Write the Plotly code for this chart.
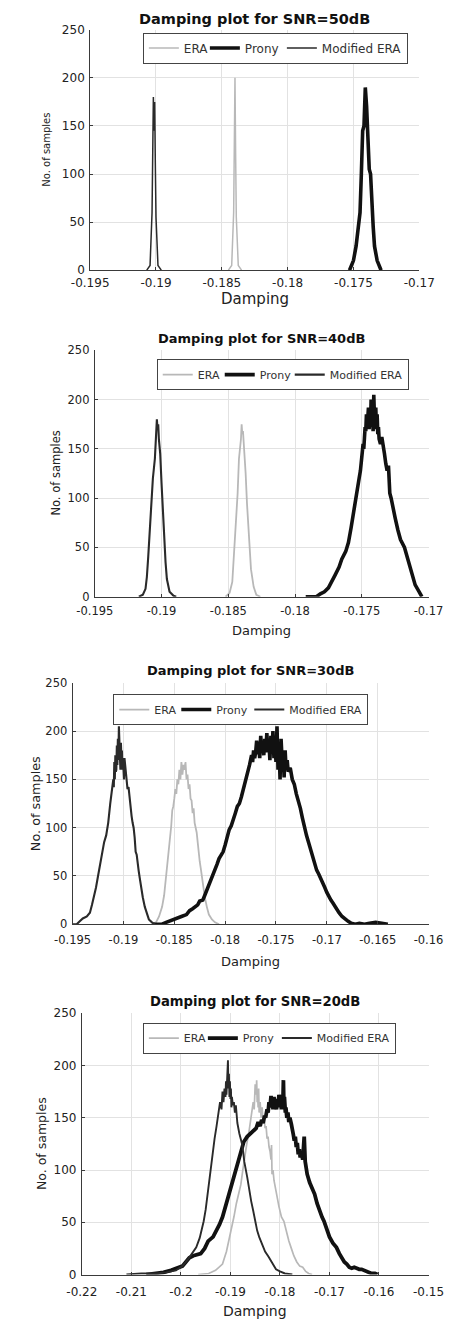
import plotly.graph_objects as go

# ---------------- data ----------------
titles = ["Damping plot for SNR=50dB", "Damping plot for SNR=40dB",
          "Damping plot for SNR=30dB", "Damping plot for SNR=20dB"]
series_names = ["ERA", "Prony", "Modified ERA"]
y_ticks = [0, 50, 100, 150, 200, 250]
y_tick_labels = ["0", "50", "100", "150", "200", "250"]

x_ticks_1 = [-0.195, -0.19, -0.185, -0.18, -0.175, -0.17]
x_labels_1 = ["-0.195", "-0.19", "-0.185", "-0.18", "-0.175", "-0.17"]
x_ticks_2 = [-0.195, -0.19, -0.185, -0.18, -0.175, -0.17]
x_labels_2 = ["-0.195", "-0.19", "-0.185", "-0.18", "-0.175", "-0.17"]
x_ticks_3 = [-0.195, -0.19, -0.185, -0.18, -0.175, -0.17, -0.165, -0.16]
x_labels_3 = ["-0.195", "-0.19", "-0.185", "-0.18", "-0.175", "-0.17", "-0.165", "-0.16"]
x_ticks_4 = [-0.22, -0.21, -0.2, -0.19, -0.18, -0.17, -0.16, -0.15]
x_labels_4 = ["-0.22", "-0.21", "-0.2", "-0.19", "-0.18", "-0.17", "-0.16", "-0.15"]

# SNR = 50 dB
era50_x = [-0.1845, -0.18425, -0.1841, -0.18405, -0.1840, -0.18395, -0.1839, -0.18375, -0.1835]
era50_y = [0, 5, 60, 130, 200, 120, 55, 5, 0]
prony50_x = [-0.1753, -0.1750, -0.1748, -0.1746, -0.1745, -0.1744, -0.1743, -0.1742, -0.1741,
             -0.1740, -0.1739, -0.1738, -0.1737, -0.1736, -0.1735, -0.1734, -0.1732, -0.1729]
prony50_y = [0, 10, 25, 50, 60, 100, 145, 150, 190, 170, 140, 105, 100, 65, 45, 25, 10, 0]
mera50_x = [-0.1907, -0.19045, -0.1903, -0.19025, -0.1902, -0.19015, -0.1901, -0.19005,
            -0.1900, -0.18985, -0.1896]
mera50_y = [0, 5, 60, 150, 180, 145, 175, 110, 55, 5, 0]

# SNR = 40 dB
era40_x = [-0.1852, -0.1849, -0.1847, -0.1846, -0.18455, -0.1844, -0.1843, -0.1842, -0.18405,
           -0.1840, -0.18395, -0.1839, -0.1838, -0.1837, -0.1836, -0.1835, -0.1834, -0.1833,
           -0.1831, -0.1829, -0.1826]
era40_y = [0, 4, 15, 35, 50, 80, 105, 140, 160, 175, 165, 168, 150, 125, 95, 70, 50, 28, 10, 2, 0]
prony40_x = [-0.1792, -0.1784, -0.1781, -0.1778, -0.1775, -0.1772, -0.1770, -0.1767, -0.1765,
             -0.1762, -0.1760, -0.1758, -0.1756, -0.1755, -0.1754, -0.1753, -0.1752, -0.1751,
             -0.1750, -0.17495, -0.1749, -0.17485, -0.1748, -0.17475, -0.1747, -0.17465, -0.1746,
             -0.17455, -0.1745, -0.17445, -0.1744, -0.17435, -0.1743, -0.17425, -0.1742,
             -0.17415, -0.1741, -0.17405, -0.1740, -0.17395, -0.1739, -0.17385, -0.1738,
             -0.17375, -0.1737, -0.1736, -0.1735, -0.1734, -0.1733, -0.1732, -0.1731, -0.1730,
             -0.1729, -0.1728, -0.1727, -0.1725, -0.1723, -0.1721, -0.1718, -0.1716, -0.1714,
             -0.1712, -0.1710, -0.1707, -0.1705]
prony40_y = [0, 0, 3, 5, 9, 16, 22, 30, 38, 46, 55, 70, 85, 95, 100, 110, 120, 128, 140, 148,
             155, 150, 165, 172, 168, 185, 170, 178, 192, 170, 185, 172, 200, 178, 195, 168, 205,
             182, 175, 192, 170, 185, 165, 172, 160, 155, 162, 150, 145, 135, 128, 133, 105, 100,
             92, 80, 68, 58, 50, 40, 30, 22, 12, 5, 0]
mera40_x = [-0.1917, -0.1914, -0.1912, -0.1911, -0.1910, -0.1909, -0.1908, -0.19065, -0.1905,
            -0.1904, -0.19035, -0.1903, -0.19025, -0.1902, -0.1901, -0.1900, -0.1899, -0.1898,
            -0.1897, -0.1896, -0.1894, -0.1891, -0.1889]
mera40_y = [0, 2, 8, 20, 40, 62, 85, 120, 140, 165, 180, 170, 175, 160, 145, 115, 85, 55, 35,
            18, 5, 1, 0]

# SNR = 30 dB
era30_x = [-0.1872, -0.1868, -0.1865, -0.1862, -0.1860, -0.1858, -0.1857, -0.1856, -0.1855,
           -0.1854, -0.1853, -0.1852, -0.1851, -0.1850, -0.1849, -0.1848, -0.1847, -0.1846,
           -0.1845, -0.1844, -0.1843, -0.1842, -0.1841, -0.1840, -0.1839, -0.1838, -0.1837,
           -0.1836, -0.1835, -0.1834, -0.1833, -0.1832, -0.1831, -0.1830, -0.1829, -0.1828,
           -0.1827, -0.1826, -0.1825, -0.1824, -0.1823, -0.1822, -0.1821, -0.1820, -0.1818,
           -0.1816, -0.1813, -0.1810, -0.1806]
era30_y = [0, 2, 8, 18, 30, 50, 60, 72, 85, 95, 102, 118, 122, 130, 140, 135, 150, 145, 160,
           150, 168, 155, 165, 160, 168, 150, 155, 140, 145, 130, 128, 115, 120, 105, 100, 95,
           85, 72, 65, 58, 50, 42, 35, 28, 18, 10, 5, 2, 0]
prony30_x = [-0.1870, -0.1862, -0.1858, -0.1855, -0.1851, -0.1847, -0.1843, -0.1838, -0.1835,
             -0.1832, -0.1829, -0.1827, -0.1825, -0.1822, -0.1820, -0.1818, -0.1816, -0.1814,
             -0.1812, -0.1810, -0.1808, -0.1806, -0.1804, -0.1802, -0.1800, -0.1798, -0.1796,
             -0.1794, -0.1792, -0.1790, -0.1788, -0.1786, -0.1784, -0.1782, -0.1780, -0.1778,
             -0.1776, -0.1774, -0.1773, -0.1772, -0.1771, -0.1770, -0.1769, -0.1768, -0.1767,
             -0.1766, -0.1765, -0.1764, -0.1763, -0.1762, -0.1761, -0.1760, -0.1759, -0.1758,
             -0.1757, -0.1756, -0.1755, -0.1754, -0.1753, -0.1752, -0.1751, -0.1750, -0.1749,
             -0.1748, -0.1747, -0.1746, -0.1745, -0.1744, -0.1743, -0.1742, -0.1741, -0.1740,
             -0.1739, -0.1738, -0.1736, -0.1734, -0.1732, -0.1730, -0.1728, -0.1726, -0.1724,
             -0.1722, -0.1720, -0.1718, -0.1716, -0.1714, -0.1712, -0.1710, -0.1708, -0.1706,
             -0.1704, -0.1702, -0.1700, -0.1698, -0.1696, -0.1694, -0.1692, -0.1690, -0.1688,
             -0.1685, -0.1682, -0.1679, -0.1676, -0.1672, -0.1668, -0.1663, -0.1658, -0.1652,
             -0.1646, -0.1640, -0.1636]
prony30_y = [0, 0, 2, 3, 5, 6, 8, 10, 14, 16, 18, 20, 24, 25, 30, 35, 40, 45, 50, 55, 62, 68,
             72, 75, 82, 90, 98, 102, 110, 115, 122, 125, 132, 140, 150, 155, 165, 175, 168, 180,
             172, 178, 190, 176, 185, 172, 195, 180, 188, 175, 192, 178, 198, 180, 190, 170, 195,
             178, 200, 172, 190, 168, 205, 160, 185, 150, 192, 170, 178, 152, 180, 160, 170, 158,
             162, 150, 145, 135, 128, 120, 110, 100, 92, 85, 78, 70, 62, 56, 52, 48, 42, 38, 33,
             28, 25, 22, 18, 15, 12, 8, 5, 3, 1, 0, 1, 0, 1, 2, 1, 0]
mera30_x = [-0.1950, -0.1946, -0.1943, -0.1940, -0.1936, -0.1933, -0.1931, -0.1929, -0.1927,
            -0.1925, -0.1923, -0.1921, -0.1919, -0.1917, -0.1915, -0.1913, -0.1911, -0.1910,
            -0.19095, -0.1909, -0.19085, -0.1908, -0.19075, -0.1907, -0.19065, -0.1906,
            -0.19055, -0.1905, -0.19045, -0.1904, -0.19035, -0.1903, -0.19025, -0.1902,
            -0.19015, -0.1901, -0.19005, -0.1900, -0.18995, -0.1899, -0.1898, -0.1897, -0.1896,
            -0.1895, -0.1894, -0.1893, -0.1892, -0.1891, -0.1890, -0.1889, -0.1888, -0.1887,
            -0.1886, -0.1885, -0.1884, -0.1883, -0.1881, -0.1879, -0.1877, -0.1875, -0.1872,
            -0.1869]
mera30_y = [0, 0, 3, 6, 8, 12, 20, 28, 38, 50, 62, 72, 85, 92, 105, 125, 140, 150, 142, 168,
            150, 175, 158, 160, 185, 165, 192, 170, 205, 178, 190, 160, 188, 172, 180, 160, 172,
            165, 150, 172, 160, 152, 140, 142, 130, 122, 112, 105, 100, 90, 75, 72, 60, 55, 48,
            40, 28, 18, 10, 5, 2, 0]

# SNR = 20 dB
era20_x = [-0.1965, -0.1944, -0.1930, -0.1916, -0.1908, -0.1903, -0.1898, -0.1893, -0.1888,
           -0.1883, -0.1879, -0.1875, -0.1871, -0.1867, -0.1863, -0.1860, -0.1857, -0.1854,
           -0.1852, -0.1850, -0.1848, -0.1847, -0.1846, -0.1845, -0.1844, -0.1843, -0.1842,
           -0.1840, -0.1838, -0.1836, -0.1834, -0.1832, -0.1830, -0.1828, -0.1826, -0.1824,
           -0.1822, -0.1820, -0.1818, -0.1817, -0.1816, -0.1814, -0.1812, -0.1810, -0.1806,
           -0.1802, -0.1797, -0.1792, -0.1787, -0.1782, -0.1777, -0.1772, -0.1766, -0.1760,
           -0.1754, -0.1748, -0.1742, -0.1735]
era20_y = [0, 1, 4, 10, 22, 32, 42, 55, 68, 80, 86, 100, 115, 125, 135, 143, 155, 165, 158,
           182, 172, 186, 165, 170, 160, 178, 155, 165, 150, 160, 145, 150, 140, 142, 130, 132,
           122, 118, 110, 124, 96, 100, 90, 86, 75, 65, 55, 51, 40, 32, 25, 18, 12, 8, 7, 3, 1, 0]
prony20_x = [-0.2070, -0.2050, -0.2035, -0.2020, -0.2008, -0.1997, -0.1990, -0.1983, -0.1975,
             -0.1967, -0.1960, -0.1952, -0.1945, -0.1935, -0.1928, -0.1922, -0.1916, -0.1910,
             -0.1904, -0.1898, -0.1891, -0.1885, -0.1880, -0.1873, -0.1866, -0.1860, -0.1854,
             -0.1848, -0.1844, -0.1840, -0.1837, -0.1834, -0.1831, -0.1829, -0.1826, -0.1824,
             -0.1822, -0.1820, -0.1818, -0.1817, -0.1815, -0.1814, -0.1812, -0.1811, -0.1809,
             -0.1807, -0.1805, -0.1804, -0.1802, -0.1800, -0.1798, -0.1797, -0.1795, -0.1794,
             -0.1793, -0.1792, -0.1791, -0.1789, -0.1788, -0.1786, -0.1784, -0.1782, -0.1780,
             -0.1777, -0.1775, -0.1773, -0.1771, -0.1769, -0.1767, -0.1765, -0.1763, -0.1761,
             -0.1759, -0.1757, -0.1754, -0.1752, -0.1751, -0.1749, -0.1745, -0.1740, -0.1735,
             -0.1730, -0.1725, -0.1720, -0.1715, -0.1711, -0.1705, -0.1700, -0.1693, -0.1686,
             -0.1680, -0.1675, -0.1670, -0.1665, -0.1660, -0.1655, -0.1650, -0.1645, -0.1640,
             -0.1635, -0.1630, -0.1625, -0.1620, -0.1615, -0.1608, -0.1603]
prony20_y = [0, 1, 2, 4, 6, 8, 12, 16, 18, 19, 20, 25, 32, 36, 42, 48, 55, 65, 72, 83, 95, 105,
             115, 127, 132, 135, 138, 140, 146, 142, 148, 145, 152, 150, 158, 155, 165, 160, 171,
             162, 168, 158, 170, 160, 166, 158, 168, 160, 172, 162, 168, 158, 172, 165, 186, 160,
             170, 155, 160, 150, 155, 146, 150, 144, 140, 134, 128, 132, 122, 126, 115, 120, 112,
             118, 110, 120, 132, 108, 96, 88, 82, 77, 68, 60, 55, 51, 42, 36, 30, 26, 20, 15, 12,
             10, 7, 6, 7, 6, 5, 5, 4, 3, 2, 1, 1, 0]
mera20_x = [-0.2110, -0.2080, -0.2050, -0.2030, -0.2010, -0.1997, -0.1985, -0.1975, -0.1969,
            -0.1962, -0.1958, -0.1954, -0.1950, -0.1946, -0.1941, -0.1937, -0.1932, -0.1928,
            -0.1924, -0.1921, -0.1918, -0.1916, -0.1914, -0.1912, -0.1910, -0.1909, -0.1908,
            -0.1907, -0.1906, -0.1905, -0.1904, -0.1903, -0.1902, -0.1901, -0.1900, -0.1899,
            -0.1898, -0.1897, -0.1895, -0.1893, -0.1891, -0.1889, -0.1886, -0.1882, -0.1876,
            -0.1872, -0.1866, -0.1862, -0.1858, -0.1854, -0.1850, -0.1846, -0.1842, -0.1836,
            -0.1830, -0.1823, -0.1815, -0.1808, -0.1800, -0.1790, -0.1775]
mera20_y = [0, 1, 1, 2, 4, 8, 15, 22, 26, 35, 42, 51, 62, 78, 93, 112, 130, 142, 155, 165, 158,
            175, 165, 178, 170, 185, 172, 190, 200, 205, 178, 192, 170, 185, 168, 178, 160, 170,
            162, 165, 155, 162, 145, 135, 124, 108, 93, 80, 70, 61, 50, 42, 36, 28, 22, 17, 10,
            5, 3, 1, 0]

panels = [
    (era50_x, era50_y, prony50_x, prony50_y, mera50_x, mera50_y, [-0.195, -0.17], x_ticks_1, x_labels_1),
    (era40_x, era40_y, prony40_x, prony40_y, mera40_x, mera40_y, [-0.195, -0.17], x_ticks_2, x_labels_2),
    (era30_x, era30_y, prony30_x, prony30_y, mera30_x, mera30_y, [-0.195, -0.16], x_ticks_3, x_labels_3),
    (era20_x, era20_y, prony20_x, prony20_y, mera20_x, mera20_y, [-0.22, -0.15], x_ticks_4, x_labels_4),
]

# ---------------- layout geometry (pixels) ----------------
W, H = 463, 1330
# left, right, top, bottom of plot areas
boxes = [(77, 433, 23, 266), (82, 443, 347, 596), (58, 443, 683, 927), (68, 443, 1017, 1281)]
legend_left = [134, 149, 102, 134]
legend_mid = [41.5, 371.5, 710, 1042]
legend_size = [12, 11, 11, 11]
legend_entry_w = [[16, 32, None], [17, 25, None], [17, 28, None], [14, 29, None]]
title_y = [12, 335, 671, 1005]
xlabel_y = [295, 630, 965, 1318]
ylabel_x = [30, 39, 18, 25]
title_size = [14.5, 13, 13, 13.2]
lab_size = [15, 13, 13, 14]
ylab_size = [10, 11.5, 12.8, 12.5]
tick_size = [12, 11.5, 11.5, 12]
xtick_standoff = [1, 3, 5, 6]

FONT = "DejaVu Sans"
colors = ["#b8b8b8", "#111111", "#2a2a2a"]
widths_by_panel = [[1.5, 3.6, 1.5], [1.8, 3.6, 2.1], [1.8, 3.6, 2.1], [1.7, 3.8, 1.9]]

fig = go.Figure()
layout = dict(width=W, height=H, margin=dict(l=0, r=0, t=0, b=0),
              paper_bgcolor="white", plot_bgcolor="white",
              font=dict(family=FONT, color="#222"), annotations=[])

for i, p in enumerate(panels):
    ex, ey, px, py, mx, my, xr, xt, xl = p
    n = "" if i == 0 else str(i + 1)
    leg = "legend" if i == 0 else "legend" + str(i + 1)
    for k, ((sx, sy), name, c, w) in enumerate(zip([(ex, ey), (px, py), (mx, my)], series_names,
                                                  colors, widths_by_panel[i])):
        tr = dict(x=sx, y=sy, mode="lines", name=name, line=dict(color=c, width=w),
                  xaxis="x" + n, yaxis="y" + n, legend=leg)
        if legend_entry_w[i][k] is not None:
            tr["legendwidth"] = legend_entry_w[i][k]
        fig.add_trace(go.Scatter(**tr))
    l, r, t, b = boxes[i]
    layout["xaxis" + n] = dict(domain=[l / W, r / W], anchor="y" + n, range=xr,
                               tickvals=xt, ticktext=xl, showgrid=True, gridcolor="#e2e2e2",
                               showline=True, linecolor="#3a3a3a", linewidth=1,
                               ticks="inside", ticklen=3, tickcolor="#3a3a3a",
                               ticklabelstandoff=xtick_standoff[i],
                               zeroline=False, tickfont=dict(size=tick_size[i], color="#222"))
    layout["yaxis" + n] = dict(domain=[1 - b / H, 1 - t / H], anchor="x" + n, range=[0, 250],
                               tickvals=y_ticks, ticktext=y_tick_labels, showgrid=True,
                               gridcolor="#e2e2e2", showline=True, linecolor="#3a3a3a",
                               linewidth=1, ticks="inside", ticklen=3, tickcolor="#3a3a3a",
                               ticklabelstandoff=2,
                               zeroline=False, tickfont=dict(size=tick_size[i], color="#222"))
    layout[leg] = dict(x=legend_left[i] / W, y=1 - legend_mid[i] / H, xanchor="left",
                       yanchor="middle", orientation="h", bgcolor="white", bordercolor="#444",
                       borderwidth=1,
                       font=dict(size=legend_size[i], family=FONT, color="#333"),
                       itemwidth=30, tracegroupgap=0)
    cx = (l + r) / 2
    layout["annotations"].append(dict(text="<b>" + titles[i] + "</b>", x=cx / W, y=1 - title_y[i] / H,
                                      xref="paper", yref="paper", showarrow=False,
                                      xanchor="center", yanchor="middle",
                                      font=dict(size=title_size[i], family=FONT, color="#111")))
    layout["annotations"].append(dict(text="Damping", x=cx / W, y=1 - xlabel_y[i] / H,
                                      xref="paper", yref="paper", showarrow=False,
                                      xanchor="center", yanchor="middle",
                                      font=dict(size=lab_size[i], family=FONT, color="#222")))
    layout["annotations"].append(dict(text="No. of samples", x=ylabel_x[i] / W,
                                      y=1 - ((t + b) / 2) / H, xref="paper", yref="paper",
                                      showarrow=False, textangle=-90, xanchor="center",
                                      yanchor="middle",
                                      font=dict(size=ylab_size[i], family=FONT, color="#222")))

fig.update_layout(**layout)
fig.write_html("out.html", config={"displayModeBar": False},
               post_script="document.body.style.margin='0px';document.body.style.padding='0px';")
